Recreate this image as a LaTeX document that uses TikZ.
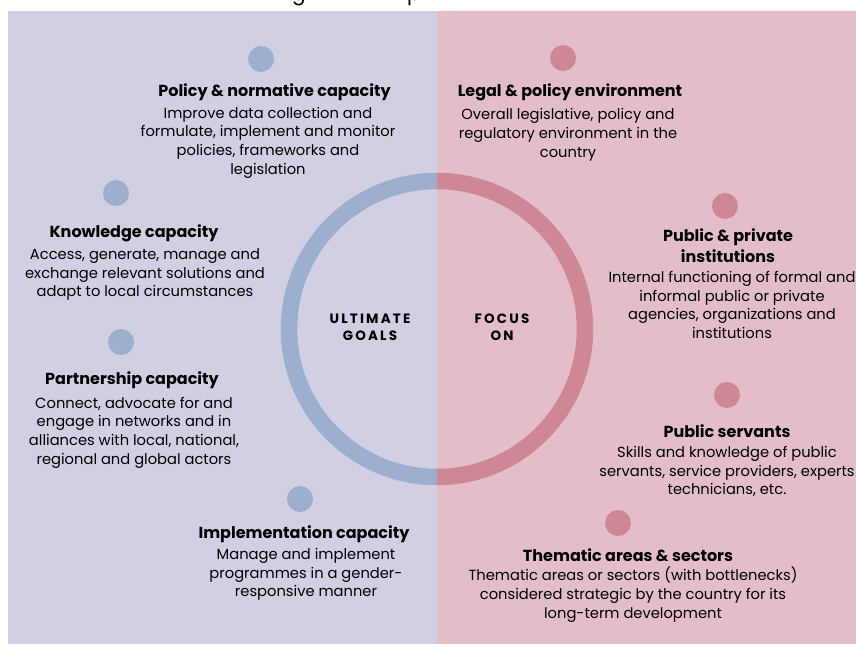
\documentclass[tikz,border=0pt]{standalone}
\usepackage{fontspec}
\setmainfont{Poppins}
\usetikzlibrary{calc}
\begin{document}
\definecolor{goalbg}{HTML}{D0D0E2}
\definecolor{focusbg}{HTML}{E3BEC8}
\definecolor{goalblue}{HTML}{9DAFCE}
\definecolor{focuspink}{HTML}{CE8895}
\begin{tikzpicture}[x=1pt,y=-1pt,
  dotgoal/.style={circle,fill=goalblue,minimum size=26pt,inner sep=0pt},
  dotfocus/.style={circle,fill=focuspink,minimum size=26pt,inner sep=0pt},
  ttl/.style={inner sep=0pt,align=center,yshift=-1.5pt,font=\fontsize{16}{21}\selectfont\bfseries},
  body/.style={inner sep=0pt,align=center,yshift=-1.5pt,font=\fontsize{14.7}{18.7}\selectfont},
  core/.style={inner sep=0pt,align=center,font=\fontsize{13.5}{17}\selectfont\bfseries\addfontfeatures{LetterSpace=16}}]
\useasboundingbox (0,0) rectangle (856,645);
% two halves of the background
\fill[goalbg] (8,11) rectangle (436.5,644);
\fill[focusbg] (436.5,11) rectangle (856,644);
% descenders of the heading line running off the top edge
\node[inner sep=0pt,anchor=base,font=\fontsize{20}{24}\selectfont] (hg) at (299,0) {g};
\node[inner sep=0pt,anchor=base,font=\fontsize{20}{24}\selectfont] (hp) at (414,0) {p};
% central ring
\coordinate (ctr) at (437,329);
\draw[goalblue,line width=16.5pt] ($(ctr)+(0,-148)$) arc[start angle=-90,end angle=-270,radius=148];
\draw[focuspink,line width=16.5pt] ($(ctr)+(0,-148)$) arc[start angle=-90,end angle=90,radius=148];
\node[core] (goals) at (370,327.5) {ULTIMATE\\GOALS};
\node[core] (focus) at (502,327.5) {FOCUS\\ON};
% ultimate goals (left)
\node[dotgoal] (d1) at (261,59) {};
\node[ttl] (t1) at (274.5,91) {Policy \& normative capacity};
\node[body] (b1) at (268,141) {Improve data collection and\\formulate, implement and monitor\\policies, frameworks and\\legislation};
\node[dotgoal] (d2) at (116,193) {};
\node[ttl] (t2) at (134,232) {Knowledge capacity};
\node[body] (b2) at (145,273) {Access, generate, manage and\\exchange relevant solutions and\\adapt to local circumstances};
\node[dotgoal] (d3) at (121,342) {};
\node[ttl] (t3) at (132,379) {Partnership capacity};
\node[body] (b3) at (134,431) {Connect, advocate for and\\engage in networks and in\\alliances with local, national,\\regional and global actors};
\node[dotgoal] (d4) at (300,499) {};
\node[ttl] (t4) at (304,533) {Implementation capacity};
\node[body] (b4) at (306,573) {Manage and implement\\programmes in a gender-\\responsive manner};
% focus areas (right)
\node[dotfocus] (e1) at (563,58) {};
\node[ttl] (u1) at (570,91) {Legal \& policy environment};
\node[body] (c1) at (568,133.5) {Overall legislative, policy and\\regulatory environment in the\\country};
\node[dotfocus] (e2) at (725,206) {};
\node[ttl] (u2) at (728,244.5) {Public \& private\\institutions};
\node[body] (c2) at (732,303.5) {Internal functioning of formal and\\informal public or private\\agencies, organizations and\\institutions};
\node[dotfocus] (e3) at (727,395) {};
\node[ttl] (u3) at (727,430) {Public servants};
\node[body] (c3) at (727,470) {Skills and knowledge of public\\servants, service providers, experts\\technicians, etc.};
\node[dotfocus] (e4) at (618,523) {};
\node[ttl] (u4) at (628,554) {Thematic areas \& sectors};
\node[body] (c4) at (633,593) {Thematic areas or sectors (with bottlenecks)\\considered strategic by the country for its\\long-term development};
\end{tikzpicture}
\end{document}
